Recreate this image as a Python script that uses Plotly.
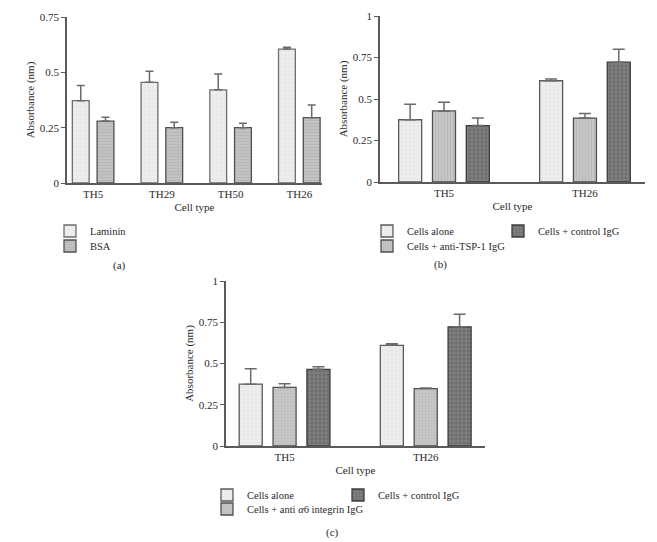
import plotly.graph_objects as go

# ---------------- data ----------------
cats_a = ["TH5", "TH29", "TH50", "TH26"]
laminin = [0.372, 0.455, 0.421, 0.605]
laminin_err = [0.068, 0.050, 0.072, 0.008]
bsa = [0.280, 0.250, 0.250, 0.295]
bsa_err = [0.017, 0.025, 0.020, 0.057]

cats_bc = ["TH5", "TH26"]
b_alone = [0.375, 0.610]
b_alone_err = [0.093, 0.010]
b_tsp = [0.428, 0.385]
b_tsp_err = [0.052, 0.028]
b_ctrl = [0.340, 0.722]
b_ctrl_err = [0.045, 0.077]

c_alone = [0.375, 0.610]
c_alone_err = [0.093, 0.010]
c_a6 = [0.355, 0.348]
c_a6_err = [0.022, 0.004]
c_ctrl = [0.465, 0.722]
c_ctrl_err = [0.015, 0.077]

W, H = 657, 542
OFF = 8  # page body margin offset compensation
FONT = "Liberation Serif, Times New Roman, serif"
TXT = "#2a2a2a"
AX = "#5a5a5a"
FS = 11
LFS = 10.5

STY = {
    "alone": dict(color="#eeeeee", pattern=dict(shape="+", fgcolor="#d6d6d6", size=4, solidity=0.2)),
    "bsa": dict(color="#c2c2c2", pattern=dict(shape="-", fgcolor="#a9a9a9", size=3, solidity=0.3)),
    "tsp": dict(color="#c6c6c6", pattern=dict(shape="|", fgcolor="#a8a8a8", size=3, solidity=0.3)),
    "a6": dict(color="#c8c8c8", pattern=dict(shape="+", fgcolor="#aaaaaa", size=3, solidity=0.3)),
    "ctrl": dict(color="#7e7e7e", pattern=dict(shape=".", fgcolor="#5c5c5c", size=4, solidity=0.4)),
}

fig = go.Figure()


def add_bar(x, y, err, name, sty, xa, ya, leg, cap, lc):
    fig.add_trace(go.Bar(
        x=x, y=y, name=name, xaxis=xa, yaxis=ya, legend=leg, showlegend=True,
        marker=dict(color=sty["color"], pattern=sty["pattern"],
                    line=dict(color=lc, width=1.3)),
        error_y=dict(type="data", array=err, symmetric=False,
                     arrayminus=[0] * len(err), color="#6a6a6a",
                     thickness=1.5, width=cap),
        offsetgroup=name,
    ))


add_bar(cats_a, laminin, laminin_err, "Laminin", STY["alone"], "x", "y", "legend", 4, "#6e6e6e")
add_bar(cats_a, bsa, bsa_err, "BSA", STY["bsa"], "x", "y", "legend2", 4, "#4f4f4f")

add_bar(cats_bc, b_alone, b_alone_err, "Cells alone", STY["alone"], "x2", "y2", "legend3", 6, "#5a5a5a")
add_bar(cats_bc, b_tsp, b_tsp_err, "Cells + anti-TSP-1 IgG", STY["tsp"], "x2", "y2", "legend4", 6, "#4f4f4f")
add_bar(cats_bc, b_ctrl, b_ctrl_err, "Cells + control IgG", STY["ctrl"], "x2", "y2", "legend5", 6, "#3c3c3c")

add_bar(cats_bc, c_alone, c_alone_err, "Cells alone ", STY["alone"], "x3", "y3", "legend6", 6, "#5a5a5a")
add_bar(cats_bc, c_a6, c_a6_err, "Cells + anti <i>α</i>6 integrin IgG", STY["a6"], "x3", "y3", "legend7", 6, "#4f4f4f")
add_bar(cats_bc, c_ctrl, c_ctrl_err, "Cells + control IgG ", STY["ctrl"], "x3", "y3", "legend8", 6, "#3c3c3c")


def px(v):
    return (v - OFF) / W


def py(v):
    return 1 - (v - OFF) / H


xbase = dict(showgrid=False, zeroline=False, showline=True, linecolor=AX, linewidth=1.5,
             ticks="", tickfont=dict(family=FONT, size=FS, color=TXT),
             title=dict(text="Cell type", font=dict(family=FONT, size=FS, color=TXT), standoff=4),
             type="category", fixedrange=True)
ybase = dict(showgrid=False, zeroline=False, showline=True, linecolor=AX, linewidth=1.5,
             ticks="outside", ticklen=4, tickcolor=AX, tickwidth=1.3, dtick=0.25,
             tickfont=dict(family=FONT, size=FS, color=TXT),
             title=dict(text="Absorbance (nm)", font=dict(family=FONT, size=FS, color=TXT), standoff=3),
             fixedrange=True)

layout = dict(
    width=W, height=H, margin=dict(l=0, r=0, t=0, b=0, pad=0, autoexpand=False),
    paper_bgcolor="white", plot_bgcolor="white", showlegend=True,
    barmode="group", bargap=0.28, bargroupgap=0.32,
    font=dict(family=FONT, size=FS, color=TXT),
    xaxis=dict(xbase, domain=[px(67), px(322)], range=[-0.38, 3.33], anchor="y"),
    yaxis=dict(ybase, domain=[py(183), py(17)], range=[0, 0.75], anchor="x"),
    xaxis2=dict(xbase, domain=[px(380), px(645)], range=[-0.454, 1.426], anchor="y2"),
    yaxis2=dict(ybase, domain=[py(182), py(16)], range=[0, 1], anchor="x2"),
    xaxis3=dict(xbase, domain=[px(226), px(485)], range=[-0.415, 1.42], anchor="y3"),
    yaxis3=dict(ybase, domain=[py(446), py(281)], range=[0, 1], anchor="x3"),
)

legpos = {
    "legend": (50, 231), "legend2": (50, 246),
    "legend3": (367, 231), "legend4": (367, 246), "legend5": (498, 231),
    "legend6": (207, 495), "legend7": (207, 509), "legend8": (338, 495),
}
for k, (lx, ly) in legpos.items():
    layout[k] = dict(x=px(lx), y=py(ly), xanchor="left", yanchor="middle",
                     bgcolor="rgba(0,0,0,0)", borderwidth=0, visible=True,
                     font=dict(family=FONT, size=LFS, color=TXT),
                     itemclick=False, itemdoubleclick=False)

fig.update_layout(**layout)

for txt, x, y in [("(a)", 111, 265), ("(b)", 440, 264), ("(c)", 332, 532)]:
    fig.add_annotation(text=txt, x=px(x), y=py(y), xref="paper", yref="paper",
                       yanchor="middle", showarrow=False,
                       font=dict(family=FONT, size=FS, color=TXT))

fig.write_html("out.html")
